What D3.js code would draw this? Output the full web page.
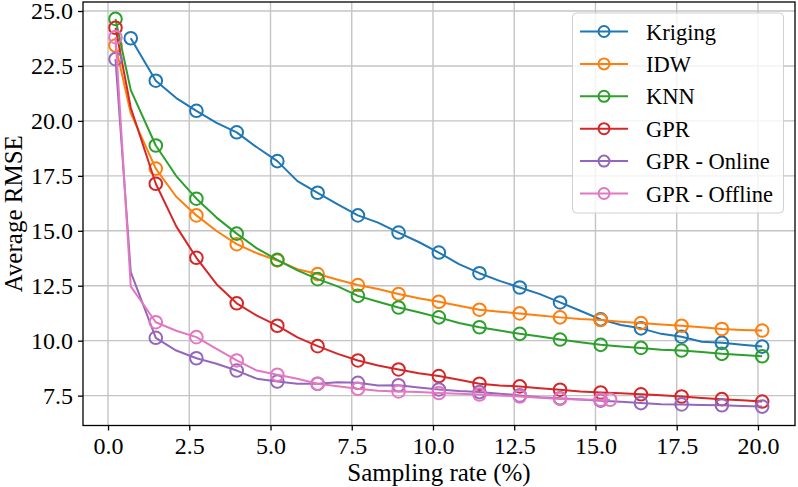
<!DOCTYPE html>
<html>
<head>
<meta charset="utf-8">
<script src="https://cdn.jsdelivr.net/npm/d3@7/dist/d3.min.js"></script>
<style>
  html, body { margin: 0; padding: 0; background: #fff; }
  svg { display: block; }
  svg text { font-family: "Liberation Serif", serif !important; }
</style>
</head>
<body>
<svg id="chart" width="798" height="487" font-family="Liberation Serif, serif"></svg>
<script>
// ---- data ----
const xTicks = [0.0, 2.5, 5.0, 7.5, 10.0, 12.5, 15.0, 17.5, 20.0];
const yTicks = [7.5, 10.0, 12.5, 15.0, 17.5, 20.0, 22.5, 25.0];

// shared sampling-rate grid (markers drawn on every other point)
const samplingRate = [0.23, 0.70, 1.47, 2.10, 2.72, 3.34, 3.96, 4.58, 5.21, 5.83, 6.45, 7.07, 7.69, 8.31, 8.94, 9.56,
                      10.18, 10.80, 11.43, 12.05, 12.67, 13.29, 13.91, 14.53, 15.16, 15.78, 16.40, 17.02, 17.65, 18.27, 18.89, 19.51, 20.13];

const seriesNames = ["Kriging", "IDW", "KNN", "GPR", "GPR - Online", "GPR - Offline"];
const seriesColors = ["#1f77b4", "#ff7f0e", "#2ca02c", "#d62728", "#9467bd", "#e377c2"];

const kriging = [null, 23.76, 21.83, 21.04, 20.46, 19.91, 19.48, 18.80, 18.17, 17.26, 16.73, 16.20, 15.70, 15.37, 14.92, 14.49,
                 14.01, 13.48, 13.07, 12.72, 12.42, 12.12, 11.74, 11.36, 10.97, 10.71, 10.56, 10.31, 10.18, 9.95, 9.90, 9.81, 9.73];
const idw = [23.43, 20.35, 17.83, 16.55, 15.70, 14.99, 14.39, 13.98, 13.65, 13.25, 13.03, 12.77, 12.53, 12.35, 12.12, 11.93,
             11.77, 11.59, 11.41, 11.32, 11.24, 11.14, 11.06, 10.99, 10.94, 10.86, 10.80, 10.74, 10.68, 10.61, 10.53, 10.49, 10.46];
const knn = [24.64, 21.40, 18.88, 17.49, 16.46, 15.60, 14.87, 14.20, 13.68, 13.20, 12.80, 12.47, 12.04, 11.77, 11.51, 11.29,
             11.06, 10.80, 10.61, 10.46, 10.31, 10.19, 10.05, 9.93, 9.81, 9.73, 9.67, 9.59, 9.55, 9.48, 9.40, 9.35, 9.29];
const gpr = [24.24, 20.60, 17.14, 15.20, 13.77, 12.57, 11.70, 11.14, 10.68, 10.15, 9.75, 9.40, 9.10, 8.87, 8.69, 8.52,
             8.39, 8.22, 8.04, 7.96, 7.92, 7.84, 7.77, 7.69, 7.64, 7.61, 7.56, 7.52, 7.46, 7.39, 7.34, 7.29, 7.23];
const gprOnline = [22.81, 13.12, 10.13, 9.55, 9.20, 8.95, 8.64, 8.27, 8.14, 8.04, 8.04, 8.11, 8.08, 7.96, 7.97, 7.87,
                   7.78, 7.71, 7.66, 7.59, 7.51, 7.43, 7.38, 7.32, 7.27, 7.22, 7.16, 7.11, 7.10, 7.07, 7.06, 7.03, 7.00];
const gprOffline = [23.81, 12.47, 10.84, 10.45, 10.16, 9.63, 9.10, 8.64, 8.45, 8.27, 8.04, 7.93, 7.81, 7.72, 7.69, 7.66,
                    7.62, 7.58, 7.55, 7.51, 7.46, 7.40, 7.35, 7.32, 7.31];
// the offline run stops with one extra sample just past 15 %
const gprOfflineTailX = [15.45];
const gprOfflineTailY = [7.31];

// ---- layout ----
const FONT = "Liberation Serif, serif";
const svg = d3.select("#chart");
const plot = { left: 83, right: 795, top: 2, bottom: 425.5 };

const x = d3.scaleLinear().domain([-0.77, 21.14]).range([plot.left, plot.right]);
const y = d3.scaleLinear().domain([6.14, 25.41]).range([plot.bottom, plot.top]);

// grid
const grid = svg.append("g");
grid.selectAll("line.gx").data(xTicks).enter().append("line")
  .attr("x1", d => x(d)).attr("x2", d => x(d))
  .attr("y1", plot.top).attr("y2", plot.bottom)
  .attr("stroke", "#c4c4c4").attr("stroke-width", 1.4);
grid.selectAll("line.gy").data(yTicks).enter().append("line")
  .attr("y1", d => y(d)).attr("y2", d => y(d))
  .attr("x1", plot.left).attr("x2", plot.right)
  .attr("stroke", "#c4c4c4").attr("stroke-width", 1.4);

// series
function buildPoints(vals, extraX, extraY) {
  const pts = [];
  vals.forEach((v, i) => { if (v !== null) pts.push({ x: samplingRate[i], y: v, i: i }); });
  if (extraX) extraX.forEach((ex, k) => pts.push({ x: ex, y: extraY[k], i: -1, tail: true }));
  return pts;
}
const allSeries = [
  buildPoints(kriging),
  buildPoints(idw),
  buildPoints(knn),
  buildPoints(gpr),
  buildPoints(gprOnline),
  buildPoints(gprOffline, gprOfflineTailX, gprOfflineTailY)
];

const line = d3.line().x(d => x(d.x)).y(d => y(d.y));
const R = 6.3;

const dataG = svg.append("g");
allSeries.forEach((pts, s) => {
  const g = dataG.append("g");
  g.append("path").attr("d", line(pts))
    .attr("fill", "none").attr("stroke", seriesColors[s]).attr("stroke-width", 2)
    .attr("stroke-linejoin", "round");
  const marks = pts.filter((d, k) => k === 0 || d.i % 2 === 0 || d.tail);
  g.selectAll("circle").data(marks).enter().append("circle")
    .attr("cx", d => x(d.x)).attr("cy", d => y(d.y)).attr("r", R)
    .attr("fill", "none").attr("stroke", seriesColors[s]).attr("stroke-width", 2);
});

// axes
const xAxis = d3.axisBottom(x).tickValues(xTicks).tickFormat(d3.format(".1f")).tickSize(5).tickPadding(6);
const yAxis = d3.axisLeft(y).tickValues(yTicks).tickFormat(d3.format(".1f")).tickSize(5).tickPadding(5);

const gx = svg.append("g").attr("transform", `translate(0,${plot.bottom})`).call(xAxis);
const gy = svg.append("g").attr("transform", `translate(${plot.left},0)`).call(yAxis);
[gx, gy].forEach(g => {
  g.attr("font-family", FONT).attr("font-size", 24);
  g.select(".domain").remove();
  g.selectAll(".tick line").attr("stroke", "#000").attr("stroke-width", 1.3);
  g.selectAll(".tick text").attr("fill", "#000").attr("font-family", FONT).attr("font-size", 24);
});

// frame
svg.append("rect").attr("x", plot.left).attr("y", plot.top)
  .attr("width", plot.right - plot.left).attr("height", plot.bottom - plot.top)
  .attr("fill", "none").attr("stroke", "#000").attr("stroke-width", 1.3);

// axis labels
svg.append("text").attr("x", (plot.left + plot.right) / 2).attr("y", 481)
  .attr("text-anchor", "middle").attr("font-family", FONT).attr("font-size", 25).text("Sampling rate (%)");
svg.append("text").attr("transform", `translate(22,${(plot.top + plot.bottom) / 2}) rotate(-90)`)
  .attr("text-anchor", "middle").attr("font-family", FONT).attr("font-size", 25).text("Average RMSE");

// legend
const leg = svg.append("g");
leg.append("rect").attr("x", 572.5).attr("y", 13).attr("width", 211).attr("height", 200)
  .attr("rx", 4).attr("fill", "#fff").attr("fill-opacity", 0.8)
  .attr("stroke", "#d0d0d0").attr("stroke-width", 1);
seriesNames.forEach((name, s) => {
  const cy = 31.5 + s * 32.4;
  leg.append("line").attr("x1", 580).attr("x2", 628).attr("y1", cy).attr("y2", cy)
    .attr("stroke", seriesColors[s]).attr("stroke-width", 2);
  leg.append("circle").attr("cx", 604).attr("cy", cy).attr("r", 5.5)
    .attr("fill", "none").attr("stroke", seriesColors[s]).attr("stroke-width", 2);
  leg.append("text").attr("x", 646).attr("y", cy + 8).attr("font-family", FONT).attr("font-size", 22.5).text(name);
});
</script>
</body>
</html>
